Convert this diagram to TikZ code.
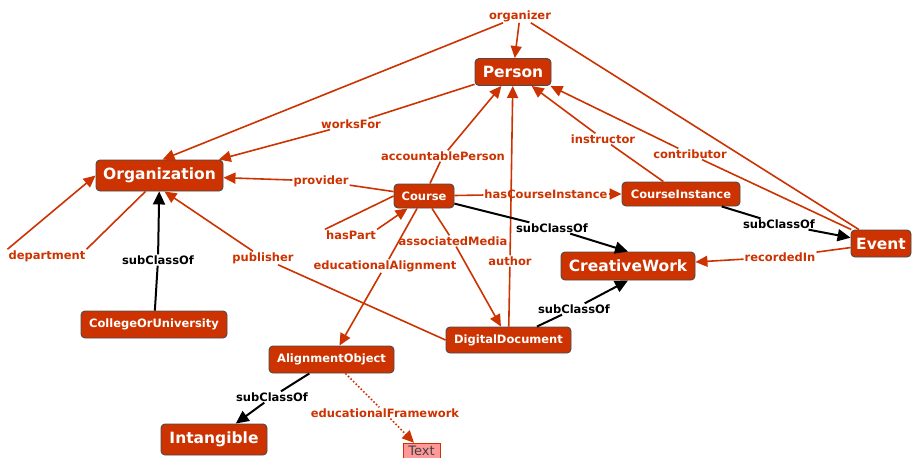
\documentclass[tikz,border=0pt]{standalone}
\usepackage{fontspec}
\setmainfont{DejaVu Sans}
\usetikzlibrary{arrows.meta}
\definecolor{rust}{HTML}{CC3300}
\definecolor{pinkish}{HTML}{FF9999}
\tikzset{
  cls/.style={draw=black!70, line width=0.9pt, fill=rust, text=white, rounded corners=4pt, inner sep=0pt,
    font=\bfseries\fontsize{11.5}{12}\selectfont},
  bigcls/.style={cls, font=\bfseries\fontsize{15.5}{16}\selectfont},
  lbl/.style={fill=white, text=rust, inner sep=1pt, font=\bfseries\fontsize{11.5}{12}\selectfont},
  sublbl/.style={lbl, text=black},
  rel/.style={draw=rust, line width=1.6pt},
  relarr/.style={rel, -{Triangle[length=12pt,width=11pt]}},
  sub/.style={draw=black, line width=2pt},
  subarr/.style={sub, -{Triangle[length=13pt,width=12pt]}},
}
\begin{document}
\begin{tikzpicture}[x=1pt, y=-1pt]
\useasboundingbox (0,0) rectangle (914,458);
% classes
\node[bigcls, minimum width=76pt, minimum height=27pt] (Person) at (513, 72) {Person};
\node[bigcls, minimum width=127pt, minimum height=31pt] (Organization) at (159.5, 175.5) {Organization};
\node[cls, minimum width=60pt, minimum height=24pt] (Course) at (424, 196) {Course};
\node[cls, minimum width=118pt, minimum height=24pt] (CourseInstance) at (681, 194) {CourseInstance};
\node[bigcls, minimum width=60pt, minimum height=27pt] (Event) at (881, 243.5) {Event};
\node[bigcls, minimum width=134pt, minimum height=28pt] (CreativeWork) at (628, 266) {CreativeWork};
\node[cls, minimum width=146pt, minimum height=27pt] (CollegeOrUniversity) at (154, 324.5) {CollegeOrUniversity};
\node[cls, minimum width=125pt, minimum height=26pt] (DigitalDocument) at (508.5, 340) {DigitalDocument};
\node[cls, minimum width=125pt, minimum height=27pt] (AlignmentObject) at (331.5, 359.5) {AlignmentObject};
\node[bigcls, minimum width=106pt, minimum height=31pt] (Intangible) at (214, 439.5) {Intangible};
\node[draw=rust, fill=pinkish, text=black!75, inner sep=0pt, minimum width=37pt, minimum height=15pt,
  font=\fontsize{13}{13}\selectfont] (Text) at (421.5, 450.5) {Text};

% labels
\node[lbl] (organizer) at (520, 16) {organizer};
\node[lbl] (worksFor) at (351, 124) {worksFor};
\node[lbl] (provider) at (321, 181) {provider};
\node[lbl] (accountablePerson) at (443, 156) {accountablePerson};
\node[lbl] (hasCourseInstance) at (546, 194) {hasCourseInstance};
\node[lbl] (instructor) at (603, 139) {instructor};
\node[lbl] (contributor) at (690, 154) {contributor};
\node[lbl] (author) at (510, 261) {author};
\node[lbl] (associatedMedia) at (453, 241) {associatedMedia};
\node[lbl] (educationalAlignment) at (385, 266) {educationalAlignment};
\node[lbl] (hasPart) at (351, 235) {hasPart};
\node[lbl] (publisher) at (263, 258) {publisher};
\node[lbl] (department) at (47, 256) {department};
\node[lbl] (recordedIn) at (780, 257) {recordedIn};
\node[lbl] (educationalFramework) at (385, 413) {educationalFramework};
\node[sublbl] (subCollege) at (158, 260) {subClassOf};
\node[sublbl] (subCourse) at (552, 228) {subClassOf};
\node[sublbl] (subInstance) at (779, 224) {subClassOf};
\node[sublbl] (subDocument) at (574, 309) {subClassOf};
\node[sublbl] (subAlignment) at (272, 397) {subClassOf};

% properties
\draw[rel] (Event) -- (organizer);
\draw[relarr] (organizer) -- (Person);
\draw[relarr] (organizer) -- ([xshift=3pt]Organization.north);
\draw[rel] (Person) -- (worksFor);
\draw[relarr] (worksFor) -- (Organization);
\draw[rel] (Course) -- (provider);
\draw[relarr] (provider) -- (Organization);
\draw[rel] (Course) -- (accountablePerson);
\draw[relarr] (accountablePerson) -- (Person);
\draw[rel] (Course) -- (hasCourseInstance);
\draw[relarr] (hasCourseInstance) -- (CourseInstance);
\draw[rel] (CourseInstance) -- (instructor);
\draw[relarr] (instructor) -- (Person);
\draw[rel] (Event) -- (contributor);
\draw[relarr] (contributor) -- ([xshift=-1pt]Person.south east);
\draw[rel] (DigitalDocument) -- (author);
\draw[relarr] (author) -- (Person);
\draw[rel] (Course) -- (associatedMedia);
\draw[relarr] (associatedMedia) -- (DigitalDocument);
\draw[rel] (Course) -- (educationalAlignment);
\draw[relarr] (educationalAlignment) -- (AlignmentObject);
\draw[rel] (Course.west) -- (hasPart.north west);
\draw[relarr] (hasPart.north east) -- ([xshift=14pt]Course.south west);
\draw[rel] (DigitalDocument.west) -- (publisher);
\draw[relarr] (publisher) -- ([xshift=5pt]Organization.south);
\draw[rel] ([xshift=-14pt]Organization.south) -- (department.north east);
\draw[relarr] (department.north west) -- (Organization.west);
\draw[rel] (Event) -- (recordedIn);
\draw[relarr] (recordedIn) -- (CreativeWork);
\draw[rel, dotted] (AlignmentObject) -- (educationalFramework);
\draw[relarr, dotted] (educationalFramework) -- (Text);

% subclasses
\draw[sub] (CollegeOrUniversity) -- (subCollege);
\draw[subarr] (subCollege) -- (Organization);
\draw[sub] (Course) -- (subCourse);
\draw[subarr] (subCourse) -- (CreativeWork.north);
\draw[sub] (CourseInstance) -- (subInstance);
\draw[subarr] (subInstance) -- (Event);
\draw[sub] (DigitalDocument) -- (subDocument);
\draw[subarr] (subDocument) -- (CreativeWork.south);
\draw[sub] (AlignmentObject) -- (subAlignment);
\draw[subarr] (subAlignment) -- (Intangible);
\end{tikzpicture}
\end{document}
